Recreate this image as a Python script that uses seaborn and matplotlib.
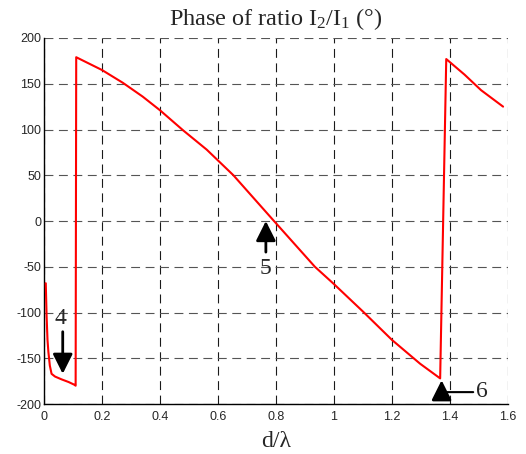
import pandas as pd
import seaborn as sns
import matplotlib.pyplot as plt

sns.set_style("white")
plt.rcParams['font.family'] = ['Liberation Sans', 'DejaVu Sans']
plt.rcParams['axes.unicode_minus'] = False

# values
d_over_lambda = [0.006, 0.009, 0.012, 0.015, 0.020, 0.026, 0.038, 0.060, 0.085, 0.105, 0.109,
                 0.111, 0.130, 0.200, 0.272, 0.340, 0.400, 0.480, 0.561, 0.653, 0.793, 0.934,
                 1.000, 1.100, 1.200, 1.297, 1.366, 1.387, 1.450, 1.507, 1.583]
phase = [-68, -105, -130, -143, -158, -167, -170, -173, -176, -179, -180,
         179, 176, 165, 151, 136, 121, 99, 78, 50, 0, -50,
         -69, -99, -130, -156, -172, 177, 160, 143, 125]
xticks = [0, 0.2, 0.4, 0.6, 0.8, 1.0, 1.2, 1.4, 1.6]
xtick_labels = ['0', '0.2', '0.4', '0.6', '0.8', '1', '1.2', '1.4', '1.6']
yticks = [-200, -150, -100, -50, 0, 50, 100, 150, 200]

df = pd.DataFrame({'d': d_over_lambda, 'phase': phase})

fig = plt.figure(figsize=(5.26, 4.54), dpi=100)
ax = fig.add_axes([0.0837, 0.1101, 0.8821, 0.8062])
sns.lineplot(data=df, x='d', y='phase', sort=False, estimator=None,
             color='red', lw=1.5, ax=ax, zorder=4)

ax.set_xlim(0, 1.6)
ax.set_ylim(-200, 200)
ax.set_xticks(xticks)
ax.set_xticklabels(xtick_labels)
ax.set_yticks(yticks)
ax.tick_params(direction='in', length=4, width=0.8, labelsize=9, color='k')
ax.tick_params(axis='x', pad=5)
ax.tick_params(axis='y', pad=2)

ax.xaxis.grid(True, color='#1a1a1a', lw=0.8, ls=(0, (8, 5)))
ax.yaxis.grid(True, color='#555555', lw=0.8, ls=(0, (8, 5)))
for side in ['top', 'right']:
    ax.spines[side].set_visible(False)
for side in ['left', 'bottom']:
    ax.spines[side].set_color('k')
    ax.spines[side].set_linewidth(1.0)
    ax.spines[side].set_zorder(3)

serif = ['Liberation Serif', 'DejaVu Serif']
ax.set_title(r'Phase of ratio $\mathregular{I_2/I_1}$ (°)', family=serif, fontsize=17.5, pad=9)
ax.set_xlabel('d/λ', family=serif, fontsize=17, labelpad=6)
ax.set_ylabel('')

head = dict(arrowstyle='-|>,head_length=0.6,head_width=0.3', mutation_scale=20,
            color='k', lw=2, shrinkA=0, shrinkB=0)

# marker 4
ax.annotate('', xy=(0.0645, -167), xytext=(0.0645, -121), arrowprops=head)
ax.text(0.057, -106, '4', family=serif, fontsize=17, ha='center', va='center')
# marker 5
ax.annotate('', xy=(0.765, 0), xytext=(0.765, -34), arrowprops=head)
ax.text(0.765, -52, '5', family=serif, fontsize=17, ha='center', va='center')
# marker 6
ax.annotate('', xy=(1.371, -174), xytext=(1.371, -189), arrowprops=head)
ax.annotate('', xy=(1.371, -187), xytext=(1.48, -187),
            arrowprops=dict(arrowstyle='-', color='k', lw=1.5, shrinkA=0, shrinkB=0))
ax.text(1.51, -186, '6', family=serif, fontsize=17, ha='center', va='center')

fig.savefig('out.png', dpi=100)
